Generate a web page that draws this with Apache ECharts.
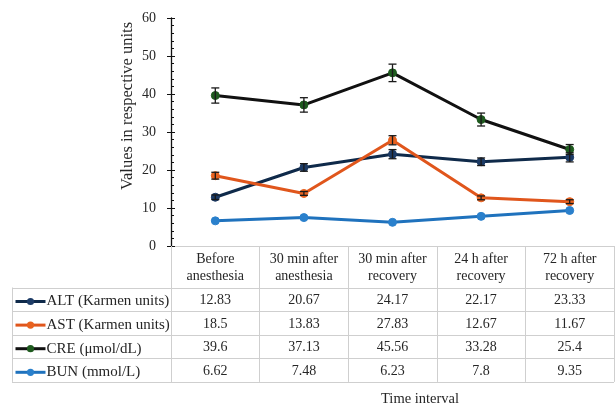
<!DOCTYPE html>
<html><head><meta charset="utf-8">
<script src="https://cdn.jsdelivr.net/npm/echarts@6/dist/echarts.min.js"></script>
<style>html,body{margin:0;padding:0;background:#fff}#c{width:615px;height:409px}</style>
</head><body><div id="c"></div>
<script>
const categories = ['Before\nanesthesia','30 min after\nanesthesia','30 min after\nrecovery','24 h after\nrecovery','72 h after\nrecovery'];
const seriesNames = ['ALT (Karmen units)','AST (Karmen units)','CRE (μmol/dL)','BUN (mmol/L)'];
const altValues = [12.83, 20.67, 24.17, 22.17, 23.33];
const astValues = [18.5, 13.83, 27.83, 12.67, 11.67];
const creValues = [39.6, 37.13, 45.56, 33.28, 25.4];
const bunValues = [6.62, 7.48, 6.23, 7.8, 9.35];
const altErr = [0.6, 1.0, 1.2, 1.0, 1.2];
const astErr = [0.9, 0.5, 1.2, 0.5, 0.5];
const creErr = [2.0, 1.9, 2.3, 1.7, 1.3];
const bunErr = [0, 0, 0, 0, 0];
const yMin = 0, yMax = 60, yStep = 10;

const FONT = '"Liberation Serif", "Times New Roman", serif';
const TXT = '#262626';
const lineColors = ['#0f2a4a', '#e0561c', '#111111', '#1f72bd'];
const markColors = ['#1c3b66', '#e8621f', '#1e5a1e', '#2a80cc'];
const allValues = [altValues, astValues, creValues, bunValues];
const allErr = [altErr, astErr, creErr, bunErr];

const chart = echarts.init(document.getElementById('c'), null, {renderer: 'canvas'});

const HEADER_H = 41.5, ROW_H = 23.6, TABLE_LEFT = 12;

const lineSeries = seriesNames.map((n, k) => ({
  name: n, type: 'line', data: allValues[k], symbol: 'circle', symbolSize: 8,
  lineStyle: {color: lineColors[k], width: 3},
  itemStyle: {color: markColors[k], borderColor: markColors[k]},
  z: 2
}));
const errSeries = seriesNames.map((n, k) => ({
  type: 'custom', z: 4, silent: true,
  data: allValues[k].map((v, i) => [i, v, allErr[k][i]]),
  encode: {x: 0, y: 1},
  renderItem: function (params, api) {
    const e = api.value(2);
    if (!e) return null;
    const i = api.value(0), v = api.value(1);
    const top = api.coord([i, v + e]);
    const bot = api.coord([i, v - e]);
    const s = {stroke: '#1a1a1a', lineWidth: 1.3};
    return {type: 'group', children: [
      {type: 'line', shape: {x1: top[0], y1: top[1], x2: bot[0], y2: bot[1]}, style: s},
      {type: 'line', shape: {x1: top[0] - 4, y1: top[1], x2: top[0] + 4, y2: top[1]}, style: s},
      {type: 'line', shape: {x1: bot[0] - 4, y1: bot[1], x2: bot[0] + 4, y2: bot[1]}, style: s}
    ]};
  }
}));

chart.setOption({
  animation: false,
  backgroundColor: '#fff',
  grid: {left: 171, right: 1, top: 18, bottom: 163},
  legend: {
    data: seriesNames, orient: 'vertical', left: 14, top: 294, padding: 0,
    itemWidth: 30, itemHeight: 9, itemGap: ROW_H - 15,
    lineStyle: {width: 3},
    textStyle: {fontFamily: FONT, fontSize: 15, color: TXT, lineHeight: 15, padding: [0, 0, 0, -4]}
  },
  xAxis: {
    type: 'category', data: categories, boundaryGap: true,
    axisLine: {show: true, lineStyle: {color: '#cfcfcf', width: 1}},
    axisTick: {show: true, interval: 0, length: HEADER_H + 4 * ROW_H, lineStyle: {color: '#cfcfcf', width: 1}},
    axisLabel: {interval: 0, margin: 5, fontFamily: FONT, fontSize: 14, color: TXT, lineHeight: 17}
  },
  yAxis: [{
    type: 'value', min: yMin, max: yMax, interval: yStep,
    axisLine: {show: true, lineStyle: {color: '#111', width: 1.3}},
    axisTick: {show: true, inside: false, length: 4, lineStyle: {color: '#111'}},
    axisLabel: {margin: 15, fontFamily: FONT, fontSize: 14, color: TXT},
    splitLine: {show: false}
  }, {
    type: 'value', min: yMin, max: yMax, interval: yStep, position: 'left',
    axisLine: {show: false},
    axisTick: {show: true, inside: true, length: 4, lineStyle: {color: '#111'}},
    minorTick: {show: true, splitNumber: 5, length: 3, lineStyle: {color: '#111'}},
    axisLabel: {show: false}, splitLine: {show: false}
  }],
  series: lineSeries.concat(errSeries)
});

// Data table and axis titles, positioned from the chart's own scales
const c0 = chart.convertToPixel({xAxisIndex: 0}, 0);
const c1 = chart.convertToPixel({xAxisIndex: 0}, 1);
const bw = c1 - c0;
const left = c0 - bw / 2;
const right = chart.convertToPixel({xAxisIndex: 0}, categories.length - 1) + bw / 2;
const y0 = chart.convertToPixel({yAxisIndex: 0}, yMin);
const rowTop = y0 + HEADER_H;
const gfx = [];
const gray = {stroke: '#cfcfcf', lineWidth: 1};
for (let r = 0; r <= seriesNames.length; r++) {
  const y = Math.round(rowTop + r * ROW_H) + 0.5;
  gfx.push({type: 'line', shape: {x1: TABLE_LEFT, y1: y, x2: right, y2: y}, style: gray, silent: true});
}
gfx.push({type: 'line', shape: {x1: TABLE_LEFT + 0.5, y1: rowTop, x2: TABLE_LEFT + 0.5, y2: rowTop + 4 * ROW_H}, style: gray, silent: true});
gfx.push({type: 'line', shape: {x1: left + 0.5, y1: y0, x2: left + 0.5, y2: rowTop + 4 * ROW_H}, style: gray, silent: true});
allValues.forEach((vals, k) => {
  vals.forEach((v, i) => {
    gfx.push({type: 'text', silent: true,
      x: chart.convertToPixel({xAxisIndex: 0}, i), y: rowTop + (k + 0.5) * ROW_H + 1,
      style: {text: String(v), font: '14px ' + FONT, fill: TXT, align: 'center', verticalAlign: 'middle'}});
  });
});
gfx.push({type: 'text', silent: true, x: 128, y: 106, rotation: Math.PI / 2,
  style: {text: 'Values in respective units', font: '16.5px ' + FONT, fill: TXT, align: 'center', verticalAlign: 'middle'}});
gfx.push({type: 'text', silent: true, x: 420, y: 399,
  style: {text: 'Time interval', font: '14.5px ' + FONT, fill: TXT, align: 'center', verticalAlign: 'middle'}});
chart.setOption({graphic: gfx});
</script></body></html>
